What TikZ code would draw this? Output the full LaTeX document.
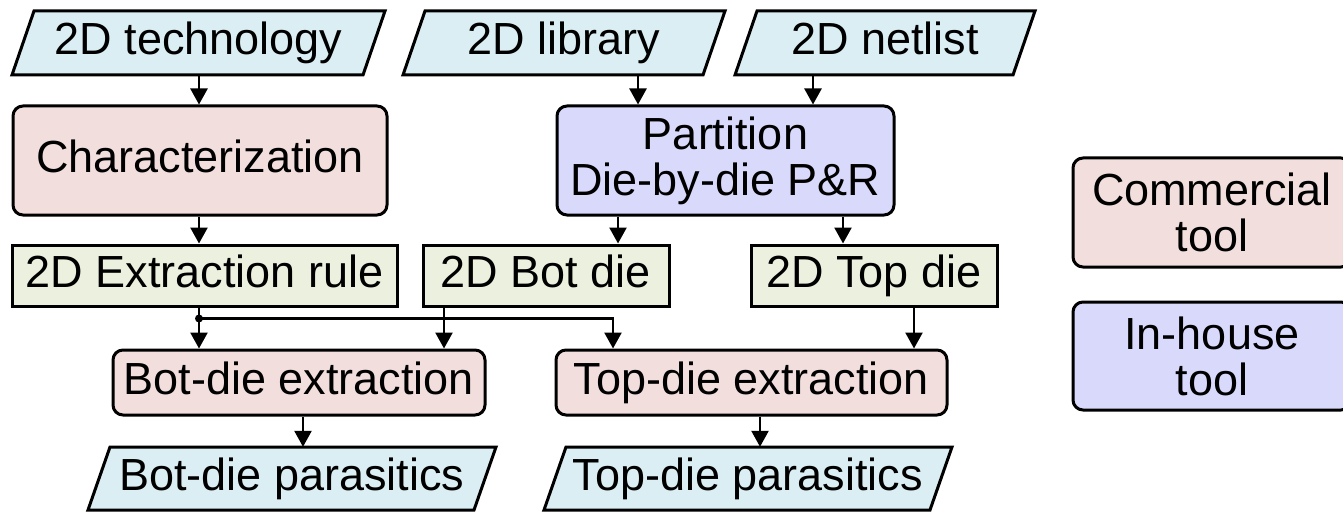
\documentclass[tikz,border=0pt]{standalone}
\usepackage{fontspec}
\setmainfont{Liberation Sans}
\usetikzlibrary{arrows.meta,calc}

\definecolor{iofill}{HTML}{DAEEF3}
\definecolor{comfill}{HTML}{F2DFDD}
\definecolor{inhfill}{HTML}{D9D9FC}
\definecolor{datfill}{HTML}{EBF1DE}

% parallelogram for inputs/outputs: name, centre x, centre y, half width, height, text
\newcommand\iobox[6]{%
  \filldraw[fill=iofill, draw=black, line width=3pt, line join=miter]
    (#2-#4-11, #3+#5/2) -- ++(22,-#5) -- (#2+#4+11, #3-#5/2) -- ++(-22,#5) -- cycle;
  \node[iotext, minimum width=2*#4 pt, minimum height=#5 pt] (#1) at (#2,#3) {#6};
}

\tikzset{
  lbl/.style={font=\fontsize{45}{46}\selectfont, align=center, inner sep=0pt},
  oneline/.style={text height=33pt, text depth=9pt},
  iotext/.style={lbl, oneline},
  box/.style={lbl, draw=black, line width=3pt},
  tool/.style={box, rounded corners=10pt},
  commercial/.style={tool, fill=comfill},
  inhouse/.style={tool, fill=inhfill},
  dataset/.style={box, oneline, fill=datfill},
  wire/.style={line width=2.5pt},
  arr/.style={wire, -{Triangle[width=17pt,length=16pt]}},
}

\begin{document}
\begin{tikzpicture}[x=1pt, y=-1pt]
\useasboundingbox (0,0) rectangle (1343,513);

% inputs
\iobox{tech}{198.5}{43}{175.5}{64}{2D technology}
\iobox{lib}{564}{43}{150}{64}{2D library}
\iobox{net}{885}{43}{139}{64}{2D netlist}

% tools
\node[commercial, oneline, minimum width=374pt, minimum height=109pt] (char) at (200,160.5) {Characterization};
\node[inhouse, minimum width=337pt, minimum height=109pt] (part) at (725.5,160.5) {Partition\\Die-by-die P\&R};

% intermediate data
\node[dataset, minimum width=385pt, minimum height=61pt] (rule) at (204.5,275.5) {2D Extraction rule};
\node[dataset, minimum width=246pt, minimum height=61pt] (botdie) at (546,275.5) {2D Bot die};
\node[dataset, minimum width=246pt, minimum height=61pt] (topdie) at (874,275.5) {2D Top die};

% extraction
\node[commercial, oneline, minimum width=372pt, minimum height=65pt] (botext) at (299,382.5) {Bot-die extraction};
\node[commercial, oneline, minimum width=391pt, minimum height=65pt] (topext) at (751.5,382.5) {Top-die extraction};

% outputs
\iobox{botpar}{292}{478.5}{193}{63}{Bot-die parasitics}
\iobox{toppar}{748}{478.5}{193}{63}{Top-die parasitics}

% legend (boxes run past the right margin)
\node[commercial, minimum width=278pt, minimum height=109pt] (legcom) at (1212,212.5) {Commercial\\tool};
\node[inhouse, minimum width=278pt, minimum height=108pt] (leginh) at (1212,356) {In-house\\tool};

% connector columns
\coordinate (ca) at (199,0);
\coordinate (cb) at (638,0);
\coordinate (cc) at (813,0);
\coordinate (cd) at (618,0);
\coordinate (ce) at (843,0);
\coordinate (cf) at (444,0);
\coordinate (cg) at (613,0);
\coordinate (ch) at (914,0);
\coordinate (ci) at (303,0);
\coordinate (cj) at (760,0);

\draw[arr] (tech.south -| ca) -- (char.north -| ca);
\draw[arr] (lib.south -| cb) -- (part.north -| cb);
\draw[arr] (net.south -| cc) -- (part.north -| cc);
\draw[arr] (char.south -| ca) -- (rule.north -| ca);
\draw[arr] (part.south -| cd) -- (botdie.north -| cd);
\draw[arr] (part.south -| ce) -- (topdie.north -| ce);

\coordinate (split) at ($(rule.south -| ca)+(0,11)$);
\draw[arr] (rule.south -| ca) -- (botext.north -| ca);
\draw[arr] (split) -| (topext.north -| cg);
\fill (split) circle (4pt);
\draw[arr] (botdie.south -| cf) -- (botext.north -| cf);
\draw[arr] (topdie.south -| ch) -- (topext.north -| ch);

\draw[arr] (botext.south -| ci) -- (botpar.north -| ci);
\draw[arr] (topext.south -| cj) -- (toppar.north -| cj);
\end{tikzpicture}
\end{document}
